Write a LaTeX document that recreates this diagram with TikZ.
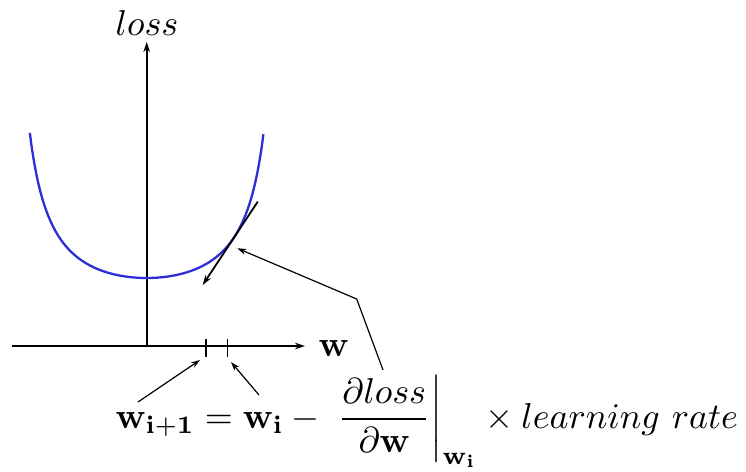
\documentclass[tikz,border=0pt]{standalone}
\usepackage{amsmath}
\usetikzlibrary{arrows.meta}
\definecolor{curveblue}{RGB}{45,45,215}
\tikzset{
  axis/.style={line width=1.8pt,-{Stealth[length=10pt,width=6.5pt]}},
  pointer/.style={line width=1.2pt,-{Stealth[length=9pt,width=6pt]}},
  losscurve/.style={curveblue,line width=2.3pt},
  tickmark/.style={line width=1.3pt},
  bigtext/.style={inner sep=0pt,scale=3.6},
  eqtext/.style={inner sep=0pt,scale=3.6}
}
\begin{document}
\begin{tikzpicture}[x=1pt,y=-1pt]
\useasboundingbox (0,0) rectangle (746,471);
% axes
\coordinate (O) at (146.7,346);
\coordinate (xstart) at (12,346);
\coordinate (xend) at (305,346);
\coordinate (yend) at (146.7,42);
\draw[axis] (xstart) -- (xend);
\draw[axis] (O) -- (yend);
\node[bigtext] (ylab) at (147,23) {$loss$};
\node[bigtext,anchor=base west] (xlab) at (318,356) {$\mathbf{w}$};
% curve
\draw[losscurve] plot[domain=-0.974:0.974,samples=120,smooth]
  ({146.7+120*\x},{278-46.9*\x*\x/(1-0.731*\x*\x)});
% tangent
\coordinate (tanstart) at (257.7,201.7);
\coordinate (tanend) at (202.7,285);
\draw[axis] (tanstart) -- (tanend);
% ticks
\coordinate (t1a) at (206,339); \coordinate (t1b) at (206,357);
\coordinate (t2a) at (227.7,339); \coordinate (t2b) at (227.7,357);
\draw[tickmark] (t1a) -- (t1b);
\draw[tickmark] (t2a) -- (t2b);
% formula
\node[eqtext,anchor=base west] (eq) at (115,428)
 {$\displaystyle \mathbf{w_{i+1}} = \mathbf{w_i} - \,\left.\frac{\partial loss}{\partial \mathbf{w}}\right|_{\mathbf{w_i}} \times learning\ rate$};
% pointers
\coordinate (p1s) at (138,402); \coordinate (p1e) at (200,360);
\coordinate (p2s) at (259,395); \coordinate (p2e) at (231,362);
\draw[pointer] (p1s) -- (p1e);
\draw[pointer] (p2s) -- (p2e);
\coordinate (as) at (383,370); \coordinate (ac) at (356.7,299); \coordinate (ae) at (237.3,248.3);
\draw[pointer] (as) -- (ac) -- (ae);
\end{tikzpicture}
\end{document}
